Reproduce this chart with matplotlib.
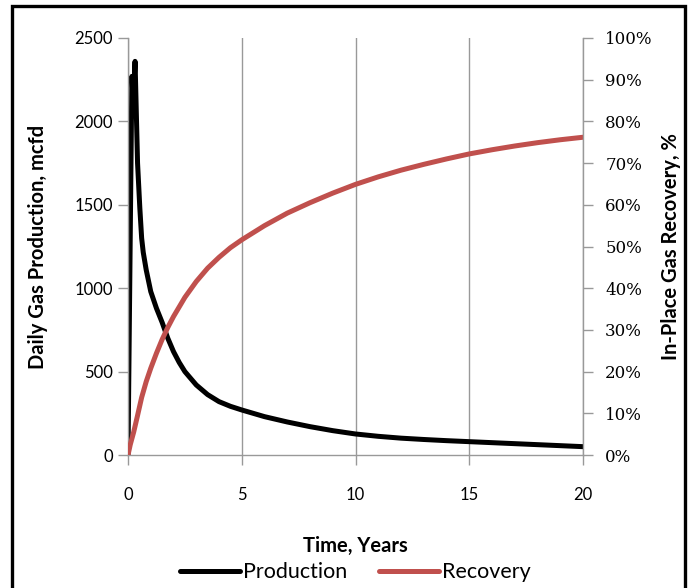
import matplotlib.pyplot as plt
from matplotlib.patches import Rectangle
from matplotlib.ticker import PercentFormatter

# Daily gas production (mcfd) vs time (years)
prod_t = [0, 0.17, 0.23, 0.31, 0.42, 0.52, 0.6, 0.67, 0.8, 1.0, 1.25, 1.5, 1.75, 2.0,
          2.25, 2.5, 3.0, 3.5, 4.0, 4.5, 5.0, 6.0, 7.0, 8.0, 9.0, 10.0, 11.0, 12.0,
          13.0, 14.0, 15.0, 16.0, 17.0, 18.0, 19.0, 20.0]
prod_q = [0, 2270, 2120, 2360, 1750, 1480, 1300, 1215, 1110, 980, 880, 795, 700, 620,
          555, 500, 420, 362, 320, 292, 270, 230, 198, 170, 146, 126, 112, 101,
          93, 86, 80, 74, 68, 62, 56, 50]

# Cumulative in-place gas recovery (%)
rec_t = [0, 0.1, 0.25, 0.4, 0.6, 0.8, 1.0, 1.25, 1.5, 1.75, 2.0, 2.5, 3.0, 3.5, 4.0,
         4.5, 5.0, 6.0, 7.0, 8.0, 9.0, 10.0, 11.0, 12.0, 13.0, 14.0, 15.0, 16.0,
         17.0, 18.0, 19.0, 20.0]
rec_pct = [0, 2.5, 5.5, 9.0, 13.8, 17.6, 20.8, 24.4, 27.7, 30.6, 33.2, 37.8, 41.6, 44.8,
           47.4, 49.7, 51.6, 55.0, 58.0, 60.5, 62.8, 64.9, 66.7, 68.3, 69.7, 71.0,
           72.2, 73.2, 74.1, 74.9, 75.6, 76.2]

x_ticks = [0, 5, 10, 15, 20]
q_ticks = [0, 500, 1000, 1500, 2000, 2500]
pct_ticks = list(range(0, 101, 10))

RED = '#C0504D'
GRAY = '#999999'
sans = 'Lato'

fig = plt.figure(figsize=(6.91, 5.88), dpi=100)
ax = fig.add_axes([128 / 691, 1 - 455 / 588, 455 / 691, 417 / 588])
ax2 = ax.twinx()

l1, = ax.plot(prod_t, prod_q, color='black', lw=3.6, solid_capstyle='round',
              solid_joinstyle='round', label='Production')
l2, = ax2.plot(rec_t, rec_pct, color=RED, lw=3.6, solid_capstyle='round',
               solid_joinstyle='round', label='Recovery')

ax.set_xlim(0, 20)
ax.set_ylim(0, 2500)
ax2.set_ylim(0, 100)
ax.set_xticks(x_ticks)
ax.set_yticks(q_ticks)
ax2.set_yticks(pct_ticks)
ax2.yaxis.set_major_formatter(PercentFormatter(decimals=0))

for a in (ax, ax2):
    a.spines['top'].set_visible(False)
    for s in ('left', 'right', 'bottom'):
        a.spines[s].set_color(GRAY)
        a.spines[s].set_linewidth(1.0)
ax.spines['right'].set_visible(False)
ax2.spines['left'].set_visible(False)
ax2.spines['bottom'].set_visible(False)

ax.xaxis.grid(True, color=GRAY, lw=1.0)
ax.tick_params(axis='x', direction='out', length=7, width=1, color=GRAY, pad=16,
               labelsize=12)
ax.tick_params(axis='y', direction='out', length=7, width=1, color=GRAY, pad=4,
               labelsize=12)
ax2.tick_params(axis='y', direction='out', length=7, width=1, color=GRAY, pad=9,
                labelsize=12)
for lab in ax.get_xticklabels() + ax.get_yticklabels():
    lab.set_fontfamily(sans)
for lab in ax2.get_yticklabels():
    lab.set_fontfamily('DejaVu Serif')

ax.set_xlabel('Time, Years', fontfamily=sans, fontweight='bold', fontsize=14.5,
              labelpad=24)
ax.set_ylabel('Daily Gas Production, mcfd', fontfamily=sans, fontweight='bold',
              fontsize=14.5, labelpad=19)
ax2.set_ylabel('In-Place Gas Recovery, %', fontfamily=sans, fontweight='bold',
               fontsize=14.5, labelpad=6)

fig.legend(handles=[l1, l2], loc='center', bbox_to_anchor=(0.514, 0.027), ncol=2,
           frameon=False, handlelength=2.8, handletextpad=0.1, columnspacing=1.5,
           prop={'family': sans, 'size': 15.5})

# outer frame
fig.patches.append(Rectangle((12 / 691, -0.02), 672.5 / 691, 1.02 - 6.5 / 588,
                             transform=fig.transFigure, fill=False, edgecolor='black',
                             lw=2.4, zorder=10))

fig.savefig('out.png', dpi=100)
